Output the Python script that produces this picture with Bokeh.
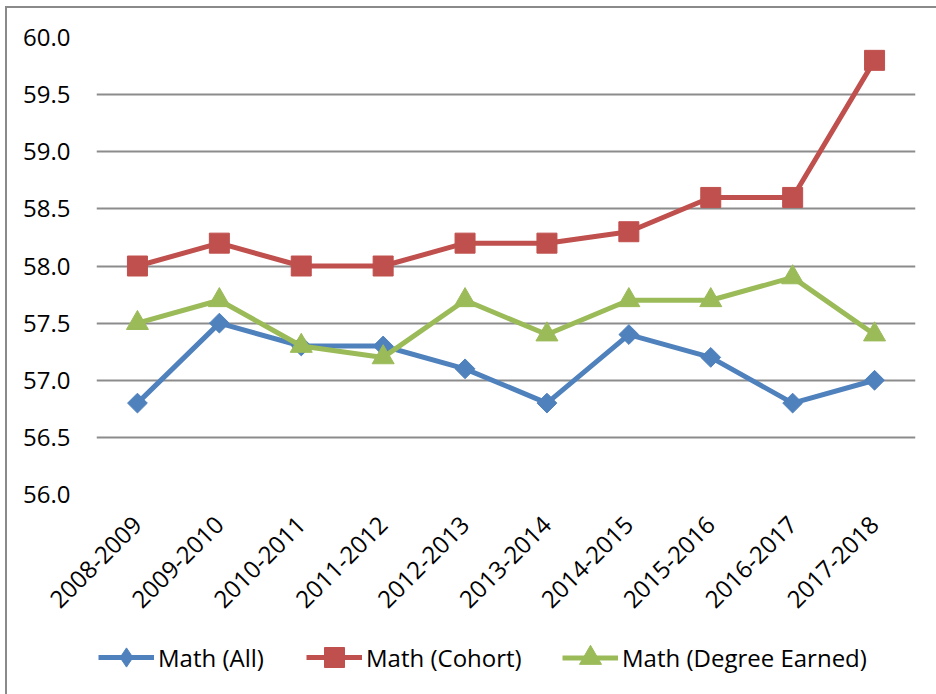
import math
from bokeh.plotting import figure
from bokeh.layouts import column
from bokeh.models import Range1d, FixedTicker, NumeralTickFormatter, Legend, LegendItem
from bokeh.embed import file_html
from bokeh.resources import INLINE

years = ["2008-2009", "2009-2010", "2010-2011", "2011-2012", "2012-2013",
         "2013-2014", "2014-2015", "2015-2016", "2016-2017", "2017-2018"]
math_all = [56.8, 57.5, 57.3, 57.3, 57.1, 56.8, 57.4, 57.2, 56.8, 57.0]
math_cohort = [58.0, 58.2, 58.0, 58.0, 58.2, 58.2, 58.3, 58.6, 58.6, 59.8]
math_degree = [57.5, 57.7, 57.3, 57.2, 57.7, 57.4, 57.7, 57.7, 57.9, 57.4]
y_ticks = [56.0, 56.5, 57.0, 57.5, 58.0, 58.5, 59.0, 59.5, 60.0]
series_names = ["Math (All)", "Math (Cohort)", "Math (Degree Earned)"]

FONT = "Open Sans"
BLUE = "#4F81BD"
RED = "#C0504D"
GREEN = "#9BBB59"

W = 929
p = figure(x_range=years, y_range=Range1d(56.0, 60.0), width=W, height=612,
           output_backend="svg", toolbar_location=None,
           min_border_left=89, min_border_right=21, min_border_top=29, min_border_bottom=126)
p.outline_line_color = None
p.xgrid.grid_line_color = None
p.ygrid.grid_line_color = "#8c8c8c"
p.ygrid.grid_line_width = 2
p.yaxis.ticker = FixedTicker(ticks=y_ticks)
p.yaxis.formatter = NumeralTickFormatter(format="0.0")
for ax in (p.xaxis[0], p.yaxis[0]):
    ax.axis_line_color = None
    ax.major_tick_line_color = None
    ax.minor_tick_line_color = None
    ax.major_tick_out = 0
    ax.major_tick_in = 0
    ax.major_label_text_font = FONT
    ax.major_label_text_font_size = "24px"
    ax.major_label_text_color = "black"
p.yaxis.major_label_standoff = 26
p.xaxis.major_label_orientation = math.pi / 4
p.xaxis.major_label_standoff = 26

p.line(years, math_all, color=BLUE, line_width=5, line_join="round")
p.scatter(years, math_all, marker="square", angle=math.pi / 4, size=14, color=BLUE)
p.line(years, math_cohort, color=RED, line_width=5, line_join="round")
p.scatter(years, math_cohort, marker="square", size=20, color=RED)
p.line(years, math_degree, color=GREEN, line_width=5, line_join="round")
p.scatter(years, math_degree, marker="triangle", size=22, color=GREEN)

# legend strip below the chart (sample renderers hold no visible points)
lf = figure(width=W, height=74, output_backend="svg", toolbar_location=None,
            min_border=0, x_range=Range1d(0, 1), y_range=Range1d(0, 1))
lf.axis.visible = False
lf.grid.visible = False
lf.outline_line_color = None

nan = float("nan")
specs = [(series_names[0], BLUE, "diamond", 2, 48),
         (series_names[1], RED, "square", 210, 50),
         (series_names[2], GREEN, "triangle", 466, 55)]
for label, col, mk, x0, gh in specs:
    lr = lf.line([nan, nan], [nan, nan], color=col, line_width=5)
    sr = lf.scatter([nan], [nan], marker=mk, size=20, color=col)
    lg = Legend(items=[LegendItem(label=label, renderers=[lr, sr])],
                location=(x0, 37 - gh / 2), orientation="horizontal",
                glyph_width=56, glyph_height=gh, label_height=gh, label_standoff=4,
                padding=0, margin=0, border_line_color=None, background_fill_alpha=0,
                label_text_font=FONT, label_text_font_size="24px", label_text_color="black")
    lf.add_layout(lg, "center")

layout = column(p, lf, spacing=0,
                styles={"margin-left": "5px", "margin-top": "6px",
                        "border-left": "2px solid #8a8a8a", "border-top": "2px solid #8a8a8a"})

open("out.html", "w").write(file_html(layout, INLINE))
